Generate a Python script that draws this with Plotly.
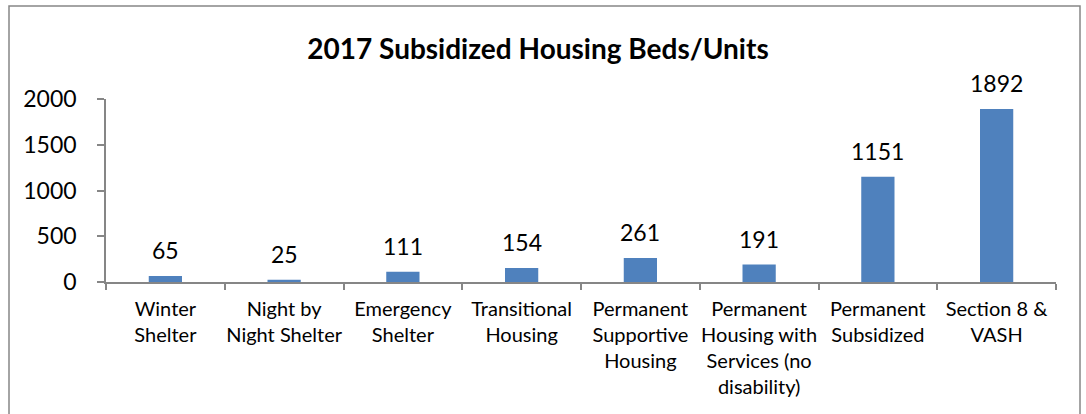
import plotly.graph_objects as go

categories = ["Winter<br>Shelter", "Night by<br>Night Shelter", "Emergency<br>Shelter",
              "Transitional<br>Housing", "Permanent<br>Supportive<br>Housing",
              "Permanent<br>Housing with<br>Services (no<br>disability)",
              "Permanent<br>Subsidized", "Section 8 &<br>VASH"]
values = [65, 25, 111, 154, 261, 191, 1151, 1892]
y_ticks = [0, 500, 1000, 1500, 2000]
title_text = "2017 Subsidized Housing Beds/Units"

FONT = "Lato"
BAR = "#4F81BD"
AX = "#868686"

fig = go.Figure()
fig.add_trace(go.Bar(x=categories, y=values, marker=dict(color=BAR, line=dict(width=0)),
                     hoverinfo="x+y"))

for c, v in zip(categories, values):
    fig.add_annotation(x=c, y=v, text=str(v), showarrow=False, yanchor="middle",
                       yshift=26, font=dict(family=FONT, size=23, color="#000000"))

L, R, T, B = 106, 30, 99, 132
W, H = 1086, 414
pw = W - L - R
ph = H - T - B
def px(x):
    return (x - L) / pw
def py(y):
    return (H - B - y) / ph

fig.add_shape(type="rect", xref="paper", yref="paper",
              x0=px(9), x1=px(1080), y0=py(430), y1=py(6),
              line=dict(color=AX, width=1.5), fillcolor="rgba(0,0,0,0)", layer="below")

fig.update_layout(
    width=W, height=H,
    margin=dict(l=L, r=R, t=T, b=B, pad=0, autoexpand=False),
    plot_bgcolor="white", paper_bgcolor="white",
    bargap=0.72,
    showlegend=False,
    title=dict(text="<b>" + title_text + "</b>", xref="container", x=538 / W, xanchor="center",
               yref="container", y=1 - 49 / H, yanchor="middle",
               font=dict(family=FONT, size=28, color="#000000")),
    font=dict(family=FONT, color="#000000"),
)

fig.update_xaxes(showline=True, linecolor=AX, linewidth=1.5, ticks="outside",
                 tickson="boundaries", ticklen=6, tickcolor=AX, tickwidth=1.5,
                 tickangle=0, automargin=False,
                 tickfont=dict(family=FONT, size=20, color="#000000"),
                 showgrid=False, ticklabelstandoff=8)
fig.update_yaxes(range=[0, 2000], tickvals=y_ticks, showline=True, linecolor=AX,
                 linewidth=1.5, ticks="outside", ticklen=7, tickcolor=AX, tickwidth=1.5,
                 automargin=False,
                 tickfont=dict(family=FONT, size=23, color="#000000"),
                 showgrid=False, zeroline=False, ticklabelstandoff=16)

fig.write_html("out.html", config={"displayModeBar": False},
               post_script="document.body.style.margin='0px';document.body.style.overflow='hidden';")
